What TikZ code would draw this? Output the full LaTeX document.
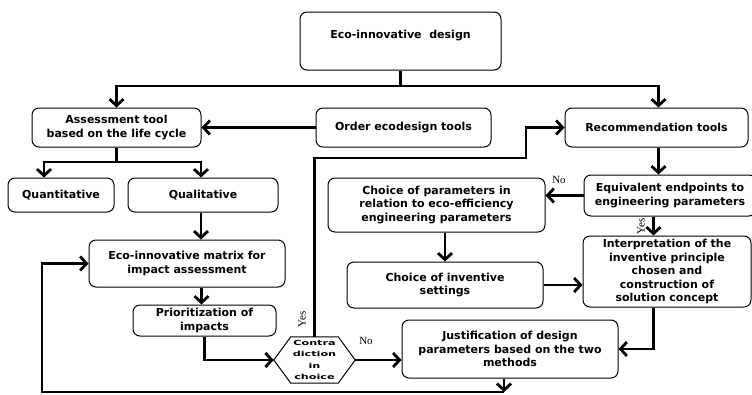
\documentclass[tikz,border=0pt]{standalone}
\usepackage{fontspec}
\setmainfont{DejaVu Sans}
\newfontfamily\yesno{Liberation Serif}
\newfontfamily\hexfont[FakeStretch=1.6]{DejaVu Sans}
\usetikzlibrary{arrows.meta}
\begin{document}
\begin{tikzpicture}[x=1pt,y=-1pt,
  box/.style={draw,line width=1pt,rounded corners=7pt,align=center,inner sep=1pt,
    font=\bfseries\fontsize{11}{13.5}\selectfont},
  arr/.style={line width=2.8pt,-{Straight Barb[length=6.5pt,width=14pt,line width=2.8pt]}},
  ln/.style={line width=2.8pt},
  lbl/.style={font=\yesno\fontsize{11}{11}\selectfont,inner sep=0pt}]
\useasboundingbox (0,0) rectangle (752,394);
% Boxes
\node[box,minimum width=201pt,minimum height=58pt] (eco) at (400.5,41) {Eco-innovative~~design\\~};
\node[box,minimum width=169pt,minimum height=39pt] (assess) at (116.5,127.5) {Assessment tool\\based on the life cycle};
\node[box,minimum width=175pt,minimum height=39pt] (order) at (403.5,127.5) {Order ecodesign tools};
\node[box,minimum width=183pt,minimum height=39pt] (recom) at (656.5,127.5) {Recommendation tools};
\node[box,minimum width=106pt,minimum height=34pt] (quant) at (61,195) {Quantitative};
\node[box,minimum width=150pt,minimum height=34pt] (qual) at (203,195) {Qualitative};
\node[box,minimum width=196pt,minimum height=47pt] (matrix) at (187,263.5) {Eco-innovative matrix for\\impact assessment};
\node[box,minimum width=143pt,minimum height=31pt] (prior) at (204.5,320.5) {Prioritization of\\impacts};
\node[box,minimum width=216pt,minimum height=58pt] (just) at (510,349) {Justification of design\\parameters based on the two\\methods};
\node[box,minimum width=172pt,minimum height=41pt] (equiv) at (670,195.5) {Equivalent endpoints to\\engineering parameters};
\node[box,minimum width=217pt,minimum height=54pt] (choicep) at (436.5,205) {Choice of parameters in\\relation to eco-efficiency\\engineering parameters};
\node[box,minimum width=196pt,minimum height=46pt] (choicei) at (445,285) {Choice of inventive\\settings};
\node[box,minimum width=168pt,minimum height=71pt] (interp) at (667,271.5) {Interpretation of the\\inventive principle\\chosen and\\construction of\\solution concept};
% Decision
\node[minimum width=81pt,minimum height=46pt,inner sep=0pt,align=center,
  font=\hexfont\bfseries\fontsize{7}{11.5}\selectfont] (contra) at (314.5,360) {Contra\\diction\\in\\choice};
\draw[line width=1pt] (contra.west) -- ([xshift=17pt]contra.north west) -- ([xshift=-17pt]contra.north east)
  -- (contra.east) -- ([xshift=-17pt]contra.south east) -- ([xshift=17pt]contra.south west) -- cycle;
% Labels
\node[lbl,rotate=90] (yesa) at (302,319) {Yes};
\node[lbl] (noa) at (366,341) {No};
\node[lbl] (nob) at (559,180) {No};
\node[lbl,rotate=90] (yesb) at (641,226) {Yes};
% Connectors
\coordinate (split) at (400.5,86);
\draw[ln] (eco.south) -- (split);
\draw[arr] (split) -| (assess.north);
\draw[arr] (split) -| ([xshift=2pt]recom.north);
\draw[arr] (order.west) -- (assess.east);
\coordinate (fork) at (116.5,162);
\draw[ln] (assess.south) -- (fork);
\draw[arr] (fork) -| ([xshift=-17pt]quant.north);
\draw[arr] (fork) -| ([xshift=-2pt]qual.north);
\draw[arr] ([xshift=-2pt]qual.south) -- ([xshift=-2pt]qual.south |- matrix.north);
\draw[arr] ([xshift=-3pt]prior.north |- matrix.south) -- ([xshift=-3pt]prior.north);
\draw[arr] (prior.south) |- (contra.west);
\draw[arr] (contra.east) -- (contra.east -| just.west);
\coordinate (yesbend) at (526,158);
\draw[arr] (contra.north) |- (yesbend) |- (recom.west);
\coordinate (back) at (504,392);
\coordinate (loop) at (42,392);
\draw[arr] (just.south -| back) -- (back);
\draw[arr] (back) -- (loop) |- (matrix.west);
\draw[arr] ([xshift=2pt]recom.south) -- ([xshift=2pt]recom.south |- equiv.north);
\draw[arr] (equiv.west) -- (equiv.west -| choicep.east);
\draw[arr] (choicei.north |- choicep.south) -- (choicei.north);
\draw[arr] (choicei.east) -- (choicei.east -| interp.west);
\draw[arr] ([xshift=-3pt]equiv.south -| recom.south) -- ([xshift=-3pt]interp.north -| recom.south);
\draw[arr] ([xshift=-3pt]interp.south -| recom.south) |- (just.east);
\end{tikzpicture}
\end{document}
